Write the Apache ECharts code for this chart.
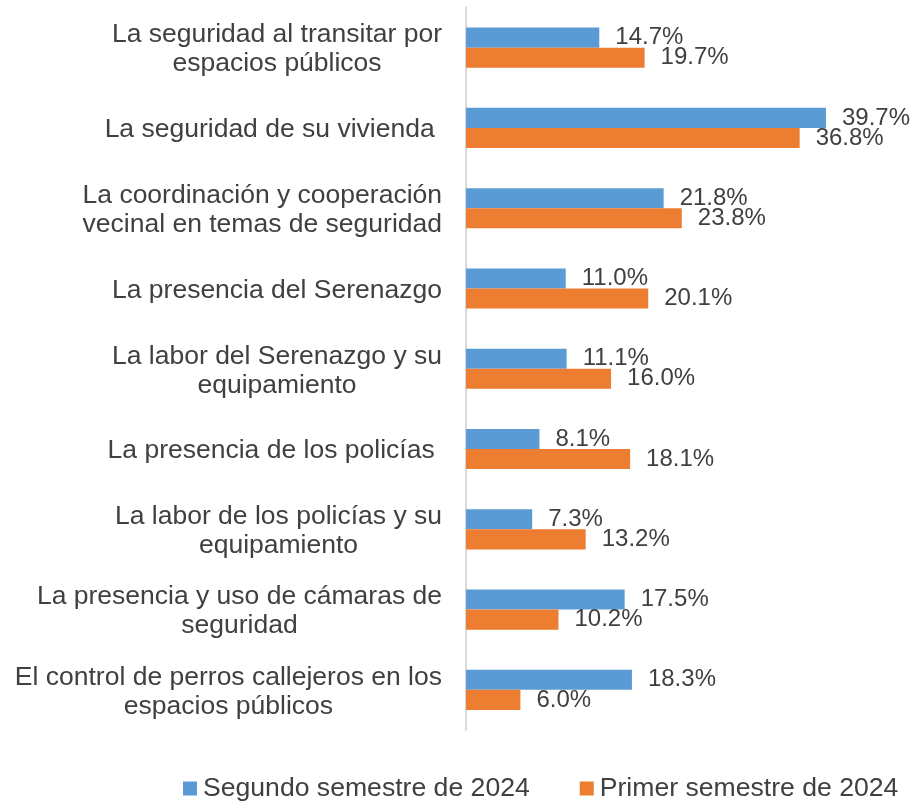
<!DOCTYPE html>
<html>
<head>
<meta charset="utf-8">
<script src="https://cdn.jsdelivr.net/npm/echarts@6/dist/echarts.min.js"></script>
<style>
  html, body { margin: 0; padding: 0; background: #fff; }
  #chart { width: 912px; height: 801px; }
</style>
</head>
<body>
<div id="chart"></div>
<script>
// categories, top to bottom
const categories = [
  'La seguridad al transitar por\nespacios públicos',
  'La seguridad de su vivienda ',
  'La coordinación y cooperación\nvecinal en temas de seguridad',
  'La presencia del Serenazgo',
  'La labor del Serenazgo y su\nequipamiento',
  'La presencia de los policías ',
  'La labor de los policías y su\nequipamiento',
  'La presencia y uso de cámaras de\nseguridad',
  'El control de perros callejeros en los\nespacios públicos'
];
const seriesNames = ['Segundo semestre de 2024', 'Primer semestre de 2024'];
const segundo2024 = [14.7, 39.7, 21.8, 11.0, 11.1, 8.1, 7.3, 17.5, 18.3];
const primer2024 = [19.7, 36.8, 23.8, 20.1, 16.0, 18.1, 13.2, 10.2, 6.0];

const font = "'Liberation Sans', Arial, sans-serif";
const textColor = '#404040';

const chart = echarts.init(document.getElementById('chart'));

const barLabel = {
  show: true,
  position: 'right',
  distance: 16,
  color: textColor,
  fontFamily: font,
  fontSize: 24,
  formatter: p => p.value.toFixed(1) + '%'
};

chart.setOption({
  backgroundColor: '#fff',
  animation: false,
  grid: { left: 466, right: 38, top: 7.5, bottom: 71 },
  legend: {
    data: seriesNames,
    left: 183,
    top: 775,
    padding: 0,
    itemWidth: 14,
    itemHeight: 14,
    itemGap: 50,
    icon: 'rect',
    textStyle: { color: textColor, fontFamily: font, fontSize: 26.6, padding: [0, 0, 0, 1] }
  },
  xAxis: {
    type: 'value',
    min: 0,
    max: 45,
    show: false
  },
  yAxis: {
    type: 'category',
    inverse: true,
    data: categories,
    axisLine: { show: true, lineStyle: { color: '#d9d9d9', width: 2 } },
    axisTick: { show: false },
    splitLine: { show: false },
    axisLabel: {
      margin: 24,
      padding: [4, 0, 0, 0],
      color: textColor,
      fontFamily: font,
      fontSize: 26.5,
      lineHeight: 29,
      formatter: v => v.split('\n').map(s => '{c|' + s + '}').join('\n'),
      rich: {
        c: { align: 'center', color: textColor, fontFamily: font, fontSize: 26.5, lineHeight: 29 }
      }
    }
  },
  series: [
    {
      name: seriesNames[0],
      type: 'bar',
      data: segundo2024,
      itemStyle: { color: '#5B9BD5' },
      barGap: '0%',
      barCategoryGap: '50%',
      label: barLabel
    },
    {
      name: seriesNames[1],
      type: 'bar',
      data: primer2024,
      itemStyle: { color: '#ED7D31' },
      barGap: '0%',
      barCategoryGap: '50%',
      label: barLabel
    }
  ]
});
</script>
</body>
</html>
